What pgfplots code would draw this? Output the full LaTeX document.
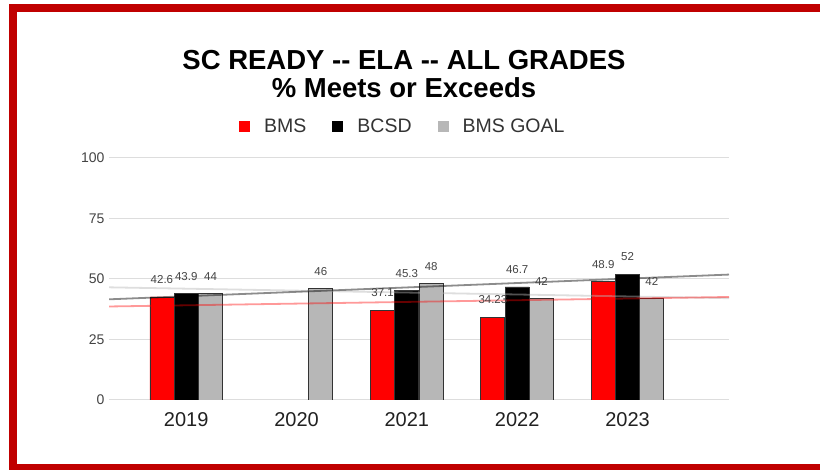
\documentclass[border=0pt]{standalone}
\usepackage{pgfplots}
\pgfplotsset{compat=1.18}
\usepackage{pgfplotstable}
\usepackage{fontspec}
\setmainfont{Liberation Sans}
\definecolor{framec}{HTML}{C00000}
\definecolor{bmsc}{HTML}{FF0000}
\definecolor{bcsdc}{HTML}{000000}
\definecolor{goalc}{HTML}{B7B7B7}
\definecolor{gridc}{HTML}{DDDDDD}
\definecolor{labc}{HTML}{444444}
\definecolor{zeroc}{HTML}{666666}

\pgfplotstableread{
x y lab
0 42.6 42.6
2 37.1 37.1
3 34.23 34.23
4 48.9 48.9
}\bms
\pgfplotstableread{
x y lab
0 43.9 43.9
2 45.3 45.3
3 46.7 46.7
4 52 52
}\bcsd
\pgfplotstableread{
x y lab
0 44 44
1 46 46
2 48 48
3 42 42
4 42 42
}\goal

\begin{document}
\begin{tikzpicture}
\fill[white] (0pt,0pt) rectangle (820pt,470pt);
\fill[framec] (9pt,0pt) rectangle (17pt,466pt);
\fill[framec] (9pt,458pt) rectangle (820pt,466pt);
\fill[framec] (9pt,0pt) rectangle (820pt,6pt);
\node[font=\bfseries\fontsize{27.5}{28}\selectfont, align=center] at (404pt,396pt)
  {SC READY -\kern0pt- ELA -\kern0pt- ALL GRADES\\\% Meets or Exceeds};
\begin{axis}[
  at={(109pt,70pt)}, anchor=south west, scale only axis,
  width=620pt, height=242pt,
  xmin=-0.7, xmax=4.92, ymin=0, ymax=100,
  xtick={0,1,2,3,4}, xticklabels={2019,2020,2021,2022,2023},
  ytick={0,25,50,75,100}, yticklabels={0,25,50,75,100},
  axis line style={draw=none}, major tick length=0pt,
  ymajorgrids, major grid style={color=gridc, line width=1pt},
  extra y ticks={0}, extra y tick labels={},
  extra y tick style={grid style={color=zeroc, line width=1.3pt}},
  yticklabel style={font=\fontsize{14}{15}\selectfont, text=labc, xshift=-1pt},
  xticklabel style={font=\fontsize{20}{22}\selectfont, text=black!87, yshift=-9pt},
  bar width=24pt,
  legend columns=3,
  legend style={at={(0.474,1.132)}, anchor=center, draw=none, fill=none,
    font=\fontsize{19.5}{21}\selectfont, text=black!80,
    /tikz/every even column/.append style={column sep=24pt},
    /tikz/every odd column/.append style={column sep=12pt}},
  legend image code/.code={\fill[#1, draw=none] (0pt,-5.5pt) rectangle (11pt,5.5pt);},
  every node near coord/.append style={font=\fontsize{11.5}{12}\selectfont, text=labc, yshift=9.5pt},
]
\addlegendimage{fill=bmsc}
\addlegendentry{BMS}
\addlegendimage{fill=bcsdc}
\addlegendentry{BCSD}
\addlegendimage{fill=goalc}
\addlegendentry{BMS GOAL}
\addplot[forget plot, ybar, bar shift=-24.3pt, fill=bmsc, draw=black!80, line width=0.8pt,
  nodes near coords, point meta=explicit symbolic,
  every node near coord/.append style={xshift=-24.3pt}] table[x=x,y=y,meta=lab] {\bms};
\addplot[forget plot, ybar, bar shift=0pt, fill=bcsdc, draw=black!80, line width=0.8pt,
  nodes near coords, point meta=explicit symbolic] table[x=x,y=y,meta=lab] {\bcsd};
\addplot[forget plot, ybar, bar shift=24.3pt, fill=goalc, draw=black!80, line width=0.8pt,
  nodes near coords, point meta=explicit symbolic,
  every node near coord/.append style={xshift=24.3pt}] table[x=x,y=y,meta=lab] {\goal};
% trend lines (linear fits, endpoints at axis limits)
\addplot[forget plot, sharp plot, no marks, color=goalc, opacity=0.45, line width=1.8pt]
  coordinates {(-0.7,46.56) (4.92,42.06)};
\addplot[forget plot, sharp plot, no marks, color=bmsc, opacity=0.4, line width=1.8pt]
  coordinates {(-0.7,38.64) (4.92,42.57)};
\addplot[forget plot, sharp plot, no marks, color=black, opacity=0.45, line width=1.8pt]
  coordinates {(-0.7,41.60) (4.92,51.83)};
\end{axis}
\end{tikzpicture}
\end{document}
